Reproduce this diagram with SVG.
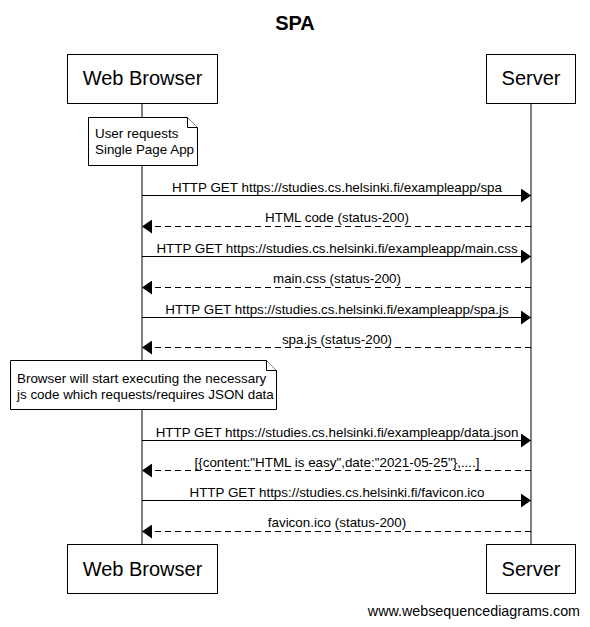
<svg xmlns="http://www.w3.org/2000/svg" width="590" height="627" viewBox="0 0 590 627">
<style>
text{font-family:"Liberation Sans",Arial,sans-serif;fill:#000}
.actor rect{fill:#fff;stroke:#000;stroke-width:1}
.actor text{font-size:20px;text-anchor:middle}
.life{stroke:#000;stroke-width:1}
.msg{stroke:#000;stroke-width:1;fill:none}
.dash{stroke-dasharray:6,4}
.lbl{font-size:13.4px;text-anchor:middle}
.note polygon,.note polyline{fill:#fff;stroke:#000;stroke-width:1}
.note text{font-size:13.4px}
</style>
<defs>
<marker id="ah" viewBox="0 0 10 14" refX="10" refY="7" markerWidth="10" markerHeight="14" markerUnits="userSpaceOnUse" orient="auto">
<path d="M0,0 L10,7 L0,14 z" fill="#000"/>
</marker>
</defs>
<rect width="590" height="627" fill="#fff"/>
<text x="295" y="30" font-size="20" font-weight="bold" text-anchor="middle">SPA</text>
<g id="lifelines">
<line class="life" x1="142" y1="103" x2="142" y2="544"/>
<line class="life" x1="531" y1="103" x2="531" y2="544"/>
</g>
<g id="browser-top" class="actor"><rect x="67.5" y="54.5" width="150" height="49"/><text x="142.5" y="85">Web Browser</text></g>
<g id="server-top" class="actor"><rect x="486.5" y="54.5" width="89" height="49"/><text x="531" y="85">Server</text></g>
<g id="browser-bottom" class="actor"><rect x="67.5" y="544.5" width="150" height="49"/><text x="142.5" y="576">Web Browser</text></g>
<g id="server-bottom" class="actor"><rect x="486.5" y="544.5" width="89" height="49"/><text x="531" y="576">Server</text></g>
<g id="note1" class="note">
<polygon points="88.5,117.5 187.5,117.5 197.5,127.5 197.5,165.5 88.5,165.5"/>
<polyline points="187.5,117.5 187.5,127.5 197.5,127.5"/>
<text x="95" y="138">User requests</text>
<text x="95" y="154">Single Page App</text>
</g>
<g id="note2" class="note">
<polygon points="10.5,360.5 266.5,360.5 276.5,370.5 276.5,409.5 10.5,409.5"/>
<polyline points="266.5,360.5 266.5,370.5 276.5,370.5"/>
<text x="17" y="383">Browser will start executing the necessary</text>
<text x="17" y="399">js code which requests/requires JSON data</text>
</g>
<g id="connectors">
<line class="msg" x1="142" y1="195.5" x2="531" y2="195.5" marker-end="url(#ah)"/>
<text class="lbl" x="337" y="192">HTTP GET https://studies.cs.helsinki.fi/exampleapp/spa</text>
<line class="msg dash" x1="531" y1="226.5" x2="142" y2="226.5" marker-end="url(#ah)"/>
<text class="lbl" x="337" y="222">HTML code (status-200)</text>
<line class="msg" x1="142" y1="256.5" x2="531" y2="256.5" marker-end="url(#ah)"/>
<text class="lbl" x="337" y="253">HTTP GET https://studies.cs.helsinki.fi/exampleapp/main.css</text>
<line class="msg dash" x1="531" y1="287.5" x2="142" y2="287.5" marker-end="url(#ah)"/>
<text class="lbl" x="337" y="283">main.css (status-200)</text>
<line class="msg" x1="142" y1="317.5" x2="531" y2="317.5" marker-end="url(#ah)"/>
<text class="lbl" x="337" y="314">HTTP GET https://studies.cs.helsinki.fi/exampleapp/spa.js</text>
<line class="msg dash" x1="531" y1="347.5" x2="142" y2="347.5" marker-end="url(#ah)"/>
<text class="lbl" x="337" y="344">spa.js (status-200)</text>
<line class="msg" x1="142" y1="440.5" x2="531" y2="440.5" marker-end="url(#ah)"/>
<text class="lbl" x="337" y="437">HTTP GET https://studies.cs.helsinki.fi/exampleapp/data.json</text>
<line class="msg dash" x1="531" y1="470.5" x2="142" y2="470.5" marker-end="url(#ah)"/>
<text class="lbl" x="337" y="467">[{content:"HTML is easy",date:"2021-05-25"},....]</text>
<line class="msg" x1="142" y1="500.5" x2="531" y2="500.5" marker-end="url(#ah)"/>
<text class="lbl" x="337" y="497">HTTP GET https://studies.cs.helsinki.fi/favicon.ico</text>
<line class="msg dash" x1="531" y1="531.5" x2="142" y2="531.5" marker-end="url(#ah)"/>
<text class="lbl" x="337" y="527">favicon.ico (status-200)</text>
</g>
<text x="580" y="616" font-size="14.3" text-anchor="end">www.websequencediagrams.com</text>
</svg>
